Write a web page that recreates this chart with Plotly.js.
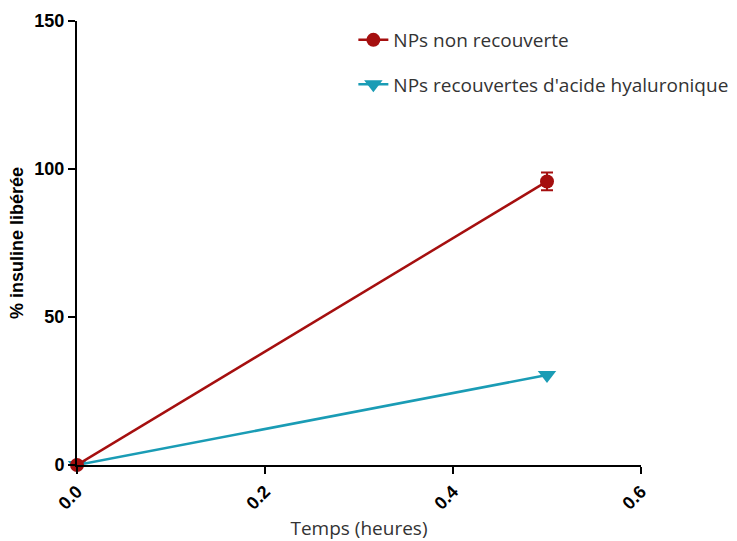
<!DOCTYPE html>
<html><head><meta charset="utf-8">
<script src="https://cdn.plot.ly/plotly-3.0.1.min.js"></script>
<style>html,body{margin:0;padding:0;background:#fff}#chart{width:737px;height:541px}</style>
</head><body><div id="chart"></div>
<script>
const time = [0, 0.5];
const nonCoated = [0, 95.8];
const nonCoatedErr = [0, 3];
const coated = [0, 30.4];
const seriesNames = ["NPs non recouverte", "NPs recouvertes d'acide hyaluronique"];
const xTicks = [0, 0.2, 0.4, 0.6];
const yTicks = [0, 50, 100, 150];

const traces = [
  {x: time, y: coated, name: seriesNames[1], mode: 'lines+markers', legend: 'legend2',
   line: {color: '#1A9CB5', width: 2.5}, marker: {symbol: 'triangle-down', size: 16, color: '#1A9CB5'}, cliponaxis: false},
  {x: time, y: nonCoated, name: seriesNames[0], mode: 'lines+markers', legend: 'legend',
   line: {color: '#A50F0F', width: 2.5}, marker: {symbol: 'circle', size: 14, color: '#A50F0F'},
   error_y: {type: 'data', array: nonCoatedErr, color: '#A50F0F', thickness: 2, width: 6}, cliponaxis: false}
];
const legendFont = {family: 'Open Sans, Liberation Sans, sans-serif', size: 19, color: '#333'};
const layout = {
  width: 737, height: 541,
  margin: {l: 77, r: 96, t: 21, b: 76, autoexpand: false},
  paper_bgcolor: '#fff', plot_bgcolor: '#fff',
  showlegend: true,
  legend: {x: 0.49, y: 1.0, xanchor: 'left', yanchor: 'top', font: legendFont, bgcolor: 'rgba(0,0,0,0)'},
  legend2: {x: 0.49, y: 0.9, xanchor: 'left', yanchor: 'top', font: legendFont, bgcolor: 'rgba(0,0,0,0)'},
  xaxis: {range: [0, 0.6], tickvals: xTicks, ticktext: xTicks.map(v => v.toFixed(1)), tickangle: -45,
    showgrid: false, zeroline: false, showline: true, linecolor: '#000', linewidth: 2,
    ticks: 'outside', ticklen: 7, tickwidth: 2, tickcolor: '#000',
    tickfont: {family: 'Liberation Sans, Arial, sans-serif', size: 18, color: '#000', weight: 'bold'},
    title: {text: 'Temps (heures)', font: {family: 'Open Sans, Liberation Sans, sans-serif', size: 19, color: '#333'}, standoff: 20}},
  yaxis: {range: [0, 150], tickvals: yTicks, showgrid: false, zeroline: false, showline: true, linecolor: '#000', linewidth: 2,
    ticks: 'outside', ticklen: 7, tickwidth: 2, tickcolor: '#000',
    tickfont: {family: 'Liberation Sans, Arial, sans-serif', size: 18, color: '#000', weight: 'bold'},
    title: {text: '% insuline libérée', font: {family: 'Liberation Sans, Arial, sans-serif', size: 18, color: '#000', weight: 'bold'}, standoff: 6}}
};
Plotly.newPlot('chart', traces, layout, {displayModeBar: false, staticPlot: true});
</script></body></html>
